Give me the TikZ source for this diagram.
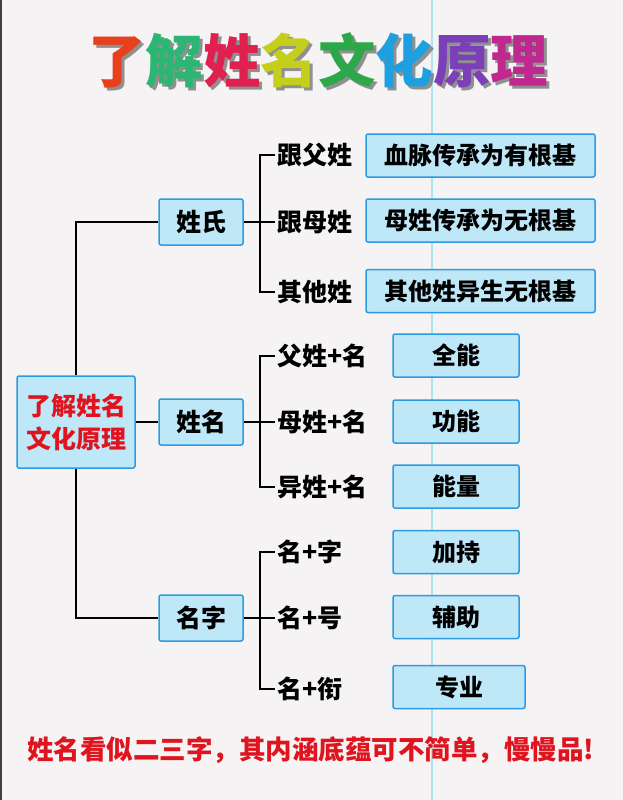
\documentclass[tikz,border=0pt]{standalone}
\usepackage{fontspec}
\setmainfont{Noto Sans CJK SC}
\usepackage{tikz}
\usetikzlibrary{calc}
\definecolor{bgcol}{HTML}{F5F3F4}
\definecolor{boxfill}{HTML}{BEE7F8}
\definecolor{boxline}{HTML}{2E9BE0}
\definecolor{notered}{HTML}{E0141E}
\definecolor{guideline}{HTML}{AEE4EF}
\tikzset{
    topbox/.style={draw=boxline, fill=boxfill, line width=1.5pt, rounded corners=2pt,
        align=center, inner sep=0pt, font=\fontsize{25}{33}\selectfont\bfseries},
    midbox/.style={topbox, minimum width=84pt, minimum height=46pt},
    leafbox/.style={topbox, minimum height=43pt, font=\fontsize{24}{30}\selectfont\bfseries},
    branchlabel/.style={anchor=west, inner sep=2pt, font=\fontsize{25}{30}\selectfont\bfseries},
    tree/.style={line width=2.5pt}
}

\begin{document}
\begin{tikzpicture}[x=1pt, y=-1pt]
            \fill[bgcol] (0,0) rectangle (623,800);
            \useasboundingbox (0,0) rectangle (623,800);
            \fill[black!75] (0,0) rectangle (2,800);
            \draw[guideline, line width=1.5pt] (432,0) -- (432,800);

            % title
            \node[text=black!60, opacity=0.7, font=\fontsize{57.5}{60}\selectfont\bfseries] (titleshadow) at (321,63) {了解姓名文化原理};
            \node[font=\fontsize{57.5}{60}\selectfont\bfseries] (title) at (318,60) {\textcolor[HTML]{E8401C}{了}\textcolor[HTML]{2BB673}{解}\textcolor[HTML]{E0204F}{姓}\textcolor[HTML]{C3CF1A}{名}\textcolor[HTML]{2CA84A}{文}\textcolor[HTML]{1E9FE0}{化}\textcolor[HTML]{7B3FB8}{原}\textcolor[HTML]{C02890}{理}};

            % root and second level
            \node[topbox, text=notered, minimum width=118pt, minimum height=92pt] (root) at (76,422) {了解姓名\\文化原理};
            \node[midbox] (xs) at (201,222) {姓氏};
            \node[midbox] (xm) at (201,422) {姓名};
            \node[midbox] (mz) at (201,618) {名字};

            \draw[tree] (xs.west) -| (root.north);
            \draw[tree] (root.east) -- (xm.west);
            \draw[tree] (root.south) |- (mz.west);

            % surname branch
            \node[branchlabel] (gf) at (275,155) {跟父姓};
            \node[branchlabel] (gm) at (275,222) {跟母姓};
            \node[branchlabel] (qt) at (275,292) {其他姓};
            \node[leafbox, minimum width=229pt] (gf1) at (480.5,155.5) {血脉传承为有根基};
            \node[leafbox, minimum width=229pt] (gm1) at (480.5,220.5) {母姓传承为无根基};
            \node[leafbox, minimum width=229pt] (qt1) at (480.5,291) {其他姓异生无根基};
            \coordinate (b1) at (260,222);
            \draw[tree] (gf.west) -- (gf.west -| b1) -- (qt.west -| b1) -- (qt.west);
            \draw[tree] (xs.east) -- (gm.west);

            % full name branch
            \node[branchlabel] (fx) at (275,356) {父姓+名};
            \node[branchlabel] (mx) at (275,422) {母姓+名};
            \node[branchlabel] (yx) at (275,487) {异姓+名};
            \node[leafbox, minimum width=126pt] (fx1) at (456,355.5) {全能};
            \node[leafbox, minimum width=126pt] (mx1) at (456,421.5) {功能};
            \node[leafbox, minimum width=126pt] (yx1) at (456,486.5) {能量};
            \coordinate (b2) at (260,422);
            \draw[tree] (fx.west) -- (fx.west -| b2) -- (yx.west -| b2) -- (yx.west);
            \draw[tree] (xm.east) -- (mx.west);

            % given name branch
            \node[branchlabel] (mzi) at (275,552) {名+字};
            \node[branchlabel] (mh) at (275,618) {名+号};
            \node[branchlabel] (mxian) at (275,689) {名+衔};
            \node[leafbox, minimum width=126pt] (mzi1) at (456,552) {加持};
            \node[leafbox, minimum width=126pt] (mh1) at (456,617) {辅助};
            \node[leafbox, minimum width=132pt] (mxian1) at (459,687) {专业};
            \coordinate (b3) at (260,618);
            \draw[tree] (mzi.west) -- (mzi.west -| b3) -- (mxian.west -| b3) -- (mxian.west);
            \draw[tree] (mz.east) -- (mh.west);

            % closing remark
            \node[text=notered, font=\fontsize{26.5}{30}\selectfont\bfseries] (remark) at (311,750) {姓名看似二三字，其内涵底蕴可不简单，慢慢品!};
        \end{tikzpicture}
\end{document}
